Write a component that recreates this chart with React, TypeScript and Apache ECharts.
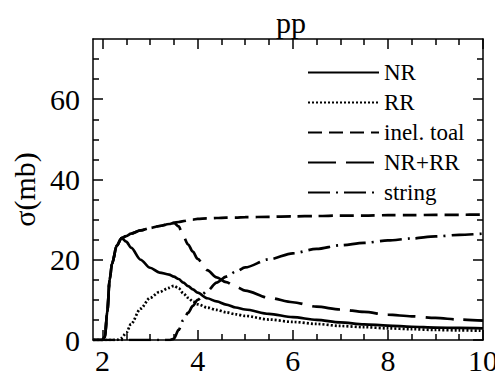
import React, { useEffect, useRef } from "react";
import * as echarts from "echarts";

const xs = [1.8, 2.0, 2.05, 2.1, 2.15, 2.2, 2.3, 2.4, 2.5, 2.6, 2.8, 3.0, 3.2, 3.4, 3.5, 3.6, 3.7, 3.8, 3.9, 4.0, 4.2, 4.4, 4.6, 4.8, 5.0, 5.5, 6.0, 6.5, 7.0, 7.5, 8.0, 8.5, 9.0, 9.5, 10];
const nr = [0, 0, 0.8, 7, 15, 19, 23.5, 25.4, 24.5, 23, 20, 18, 16.8, 16.3, 15.8, 15.2, 14.3, 13.4, 12.6, 11.8, 10.4, 9.6, 8.8, 8.1, 7.6, 6.5, 5.7, 5.0, 4.4, 3.9, 3.6, 3.3, 3.1, 3.0, 2.9];
const rr = [0, 0, 0, 0, 0, 0, 0, 0.5, 1.8, 4, 7.8, 10.5, 12, 13, 13.5, 12.9, 11.6, 10.5, 9.6, 8.9, 8.1, 7.5, 6.9, 6.4, 6.0, 5.1, 4.5, 4.0, 3.5, 3.2, 2.9, 2.7, 2.5, 2.4, 2.3];
const inel = [0, 0, 0.8, 7, 15, 19, 23.5, 25.4, 25.9, 26.5, 27.3, 27.9, 28.4, 28.9, 29.2, 29.4, 29.6, 29.8, 30.0, 30.2, 30.3, 30.4, 30.5, 30.5, 30.6, 30.7, 30.8, 30.9, 31.0, 31.0, 31.1, 31.1, 31.2, 31.2, 31.25];
const nrrr = [0, 0, 0.8, 7, 15, 19, 23.5, 25.4, 25.9, 26.5, 27.3, 27.9, 28.4, 28.9, 29.2, 28.3, 25.8, 23.8, 22, 20.2, 17.4, 15.6, 14.4, 13.3, 12.3, 10.5, 9.4, 8.3, 7.6, 7.0, 6.3, 5.9, 5.5, 5.1, 4.8];
const str = [0, 0, 0, 0, 0, 0, 0, 0, 0, 0, 0, 0, 0, 0, 0.3, 2.5, 5, 6.8, 8.5, 10, 12.2, 14.3, 15.8, 17.0, 18.1, 20.1, 21.6, 22.7, 23.6, 24.2, 24.8, 25.3, 25.8, 26.2, 26.5];

const seriesNames = ["NR", "RR", "inel. toal", "NR+RR", "string"];
const xMajor = [2, 4, 6, 8, 10];
const xMinor = [2.5, 3, 3.5, 4.5, 5, 5.5, 6.5, 7, 7.5, 8.5, 9, 9.5];
const yMajor = [0, 20, 40, 60];
const yMinor = [5, 10, 15, 25, 30, 35, 45, 50, 55, 65, 70];

const FONT = "Liberation Serif";

export default function App() {
  const ref = useRef<HTMLDivElement>(null);
  useEffect(() => {
    if (!ref.current) return;
    const chart = echarts.init(ref.current, null, { renderer: "svg" });
    const axisLine = { show: true, onZero: false, lineStyle: { color: "#000", width: 1.5 } };
    const labelStyle = { fontSize: 30, fontFamily: FONT, color: "#000" };
    const mkX = (pos: string, major: boolean, labels: boolean, showLine: boolean) => ({
      type: "value",
      min: 1.8,
      max: 10,
      position: pos,
      axisLine: showLine ? axisLine : { show: false, onZero: false },
      axisTick: {
        show: true,
        inside: true,
        length: major ? 10 : 6,
        customValues: major ? xMajor : xMinor,
        lineStyle: { color: "#000", width: 1.5 },
      },
      axisLabel: labels ? { show: true, customValues: xMajor, margin: 5, ...labelStyle } : { show: false },
      splitLine: { show: false },
    });
    const mkY = (pos: string, major: boolean, labels: boolean, showLine: boolean) => ({
      type: "value",
      min: 0,
      max: 75,
      position: pos,
      axisLine: showLine ? axisLine : { show: false, onZero: false },
      axisTick: {
        show: true,
        inside: true,
        length: major ? 10 : 6,
        customValues: major ? yMajor : yMinor,
        lineStyle: { color: "#000", width: 1.5 },
      },
      axisLabel: labels ? { show: true, customValues: yMajor, margin: 13, ...labelStyle } : { show: false },
      splitLine: { show: false },
    });
    const y0: any = mkY("left", true, true, true);
    y0.name = "σ(mb)";
    y0.nameLocation = "middle";
    y0.nameGap = 48;
    y0.nameTextStyle = { ...labelStyle };

    const pts = (ys: number[]) => xs.map((x, i) => [x, ys[i]]);
    const mkS = (name: string, ys: number[], type: any, width: number) => ({
      name,
      type: "line",
      data: pts(ys),
      showSymbol: false,
      symbol: "none",
      smooth: 0.3,
      smoothMonotone: "x",
      xAxisIndex: 0,
      yAxisIndex: 0,
      itemStyle: { color: "rgba(0,0,0,0)" },
      lineStyle: { color: "#000", width, type },
    });

    chart.setOption({
      animation: false,
      backgroundColor: "#fff",
      textStyle: { fontFamily: FONT },
      title: {
        text: "pp",
        left: 271,
        top: 2,
        textStyle: { fontSize: 30, fontFamily: FONT, color: "#000", fontWeight: "normal" },
      },
      grid: { left: 93, right: 12, top: 39, bottom: 37, outerBoundsMode: "none" },
      legend: {
        orient: "vertical",
        left: 302,
        top: 56,
        itemWidth: 71,
        itemHeight: 14,
        itemGap: 7,
        data: seriesNames,
        textStyle: { fontSize: 23, fontFamily: FONT, color: "#000", lineHeight: 23 },
        itemStyle: { color: "rgba(0,0,0,0)", borderWidth: 0 },
      },
      xAxis: [mkX("bottom", true, true, true), mkX("bottom", false, false, false), mkX("top", true, false, true), mkX("top", false, false, false)],
      yAxis: [y0, mkY("left", false, false, false), mkY("right", true, false, true), mkY("right", false, false, false)],
      series: [
        mkS(seriesNames[0], nr, "solid", 2.7),
        mkS(seriesNames[1], rr, [2, 2], 2.7),
        mkS(seriesNames[2], inel, [14, 7], 2.7),
        mkS(seriesNames[3], nrrr, [28, 10], 2.7),
        mkS(seriesNames[4], str, [22, 6, 2, 6], 2.7),
      ],
    });
    return () => chart.dispose();
  }, []);
  return <div ref={ref} style={{ position: "fixed", left: 0, top: 0, width: 495, height: 377 }} />;
}
